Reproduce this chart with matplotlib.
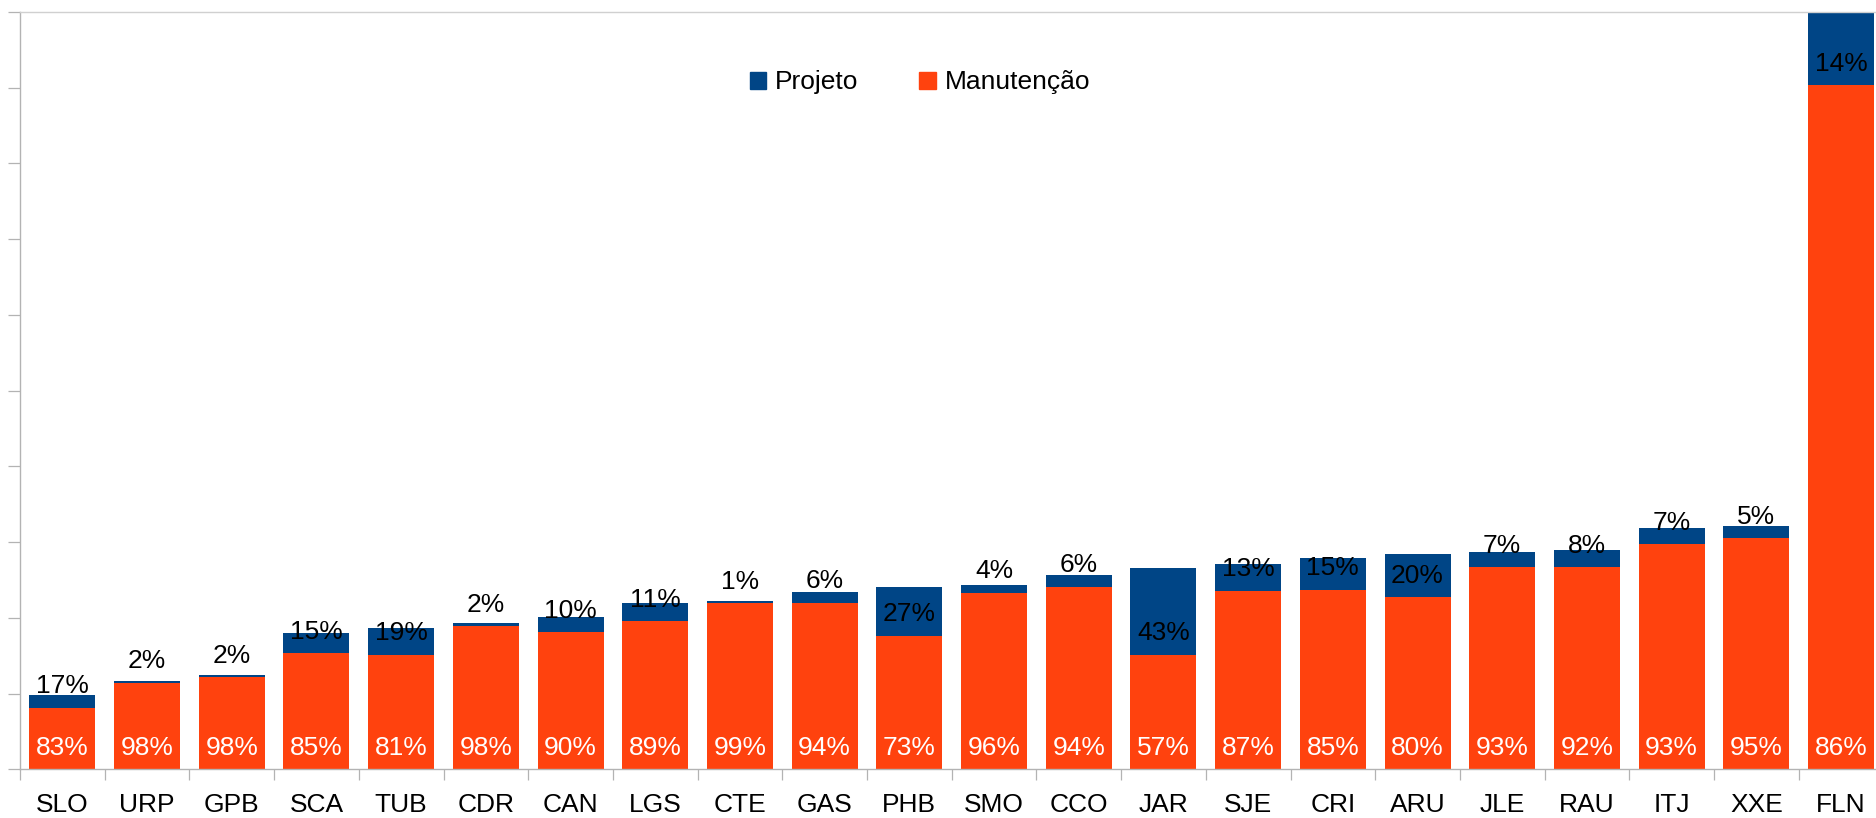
import matplotlib
matplotlib.use("Agg")
import matplotlib.pyplot as plt
from matplotlib.patches import Rectangle
import numpy as np

plt.rcParams['font.family'] = ['Liberation Sans', 'DejaVu Sans']

categories = ["SLO", "URP", "GPB", "SCA", "TUB", "CDR", "CAN", "LGS", "CTE", "GAS", "PHB",
              "SMO", "CCO", "JAR", "SJE", "CRI", "ARU", "JLE", "RAU", "ITJ", "XXE", "FLN"]
manutencao = [0.813, 1.143, 1.215, 1.53, 1.511, 1.89, 1.81, 1.955, 2.195, 2.20, 1.76,
              2.33, 2.41, 1.515, 2.355, 2.37, 2.27, 2.67, 2.665, 2.97, 3.05, 9.03]
projeto = [0.167, 0.023, 0.03, 0.27, 0.355, 0.04, 0.20, 0.24, 0.025, 0.14, 0.65,
           0.10, 0.155, 1.145, 0.355, 0.42, 0.57, 0.20, 0.23, 0.22, 0.16, 1.47]
pct_manutencao = ["83%", "98%", "98%", "85%", "81%", "98%", "90%", "89%", "99%", "94%", "73%",
                  "96%", "94%", "57%", "87%", "85%", "80%", "93%", "92%", "93%", "95%", "86%"]
pct_projeto = ["17%", "2%", "2%", "15%", "19%", "2%", "10%", "11%", "1%", "6%", "27%",
               "4%", "6%", "43%", "13%", "15%", "20%", "7%", "8%", "7%", "5%", "14%"]

BLUE = "#004586"
ORANGE = "#ff420e"
GRID = "#b3b3b3"
FS = 19

W, H = 1876, 818
fig = plt.figure(figsize=(W / 100, H / 100), dpi=100)
ax = fig.add_axes([20 / W, 48.7 / H, 1863.4 / W, 757.3 / H])

x = np.arange(len(categories))
ax.bar(x, manutencao, width=0.78, color=ORANGE, zorder=2)
ax.bar(x, projeto, width=0.78, bottom=manutencao, color=BLUE, zorder=2)

for xi, m, p, lm, lp in zip(x, manutencao, projeto, pct_manutencao, pct_projeto):
    ax.annotate(lm, xy=(xi, 0), xytext=(0, 15.5), textcoords="offset points",
                ha="center", va="center", color="white", fontsize=FS, zorder=4)
    ax.annotate(lp, xy=(xi, m), xytext=(0, 15.5), textcoords="offset points",
                ha="center", va="center", color="black", fontsize=FS, zorder=4)

ax.set_xlim(-0.5, len(categories) - 0.5)
ax.set_ylim(0, 10)
ax.set_yticks(np.arange(0, 11, 1))
ax.set_yticklabels([])
ax.tick_params(axis="y", length=8.6, width=0.9, color=GRID, direction="out")

ax.set_xticks(x)
ax.set_xticklabels(categories, fontsize=FS)
ax.set_xticks(np.arange(-0.5, len(categories), 1), minor=True)
ax.tick_params(axis="x", which="major", length=0, pad=17)
ax.tick_params(axis="x", which="minor", length=8, width=0.9, color=GRID, direction="out")

for side in ["left", "bottom"]:
    ax.spines[side].set_color(GRID)
    ax.spines[side].set_linewidth(1.0)
ax.spines["top"].set_color("#d0d0d0")
ax.spines["top"].set_linewidth(1.0)
ax.spines["right"].set_visible(False)

handles = [Rectangle((0, 0), 1, 1, color=BLUE), Rectangle((0, 0), 1, 1, color=ORANGE)]
fig.legend(handles, ["Projeto", "Manutenção"], ncol=2, frameon=False, loc="center",
           bbox_to_anchor=(920 / W, 1 - 82.5 / H), fontsize=FS,
           handlelength=0.62, handleheight=0.62, handletextpad=0.35, columnspacing=2.3)

fig.savefig("out.png", dpi=100)
